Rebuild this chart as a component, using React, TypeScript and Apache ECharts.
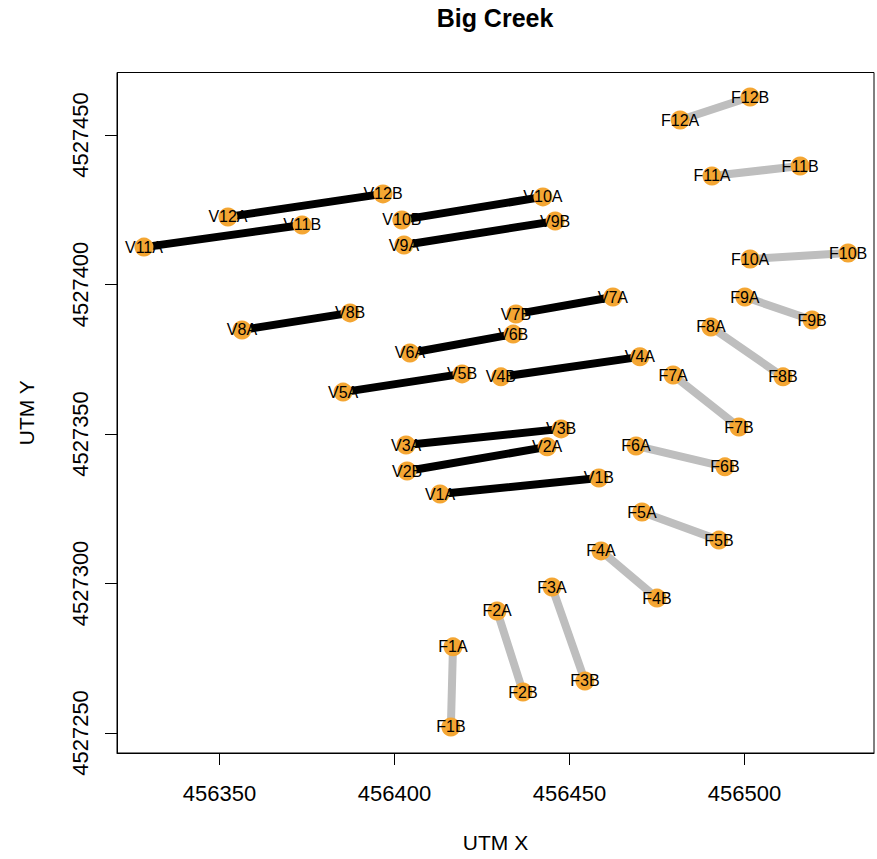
import { useEffect, useRef } from "react";
import * as echarts from "echarts";

// Transect endpoints (UTM coordinates)
const F_IDS = ["F1", "F2", "F3", "F4", "F5", "F6", "F7", "F8", "F9", "F10", "F11", "F12"];
const F_A_X = [456416.7, 456429.3, 456445.0, 456459.0, 456470.7, 456469.0, 456479.6, 456490.4, 456500.1, 456501.6, 456490.7, 456481.6];
const F_A_Y = [4527278.8, 4527290.8, 4527298.8, 4527310.9, 4527323.9, 4527346.0, 4527369.7, 4527385.8, 4527395.8, 4527408.5, 4527436.3, 4527455.0];
const F_B_X = [456416.1, 456436.7, 456454.4, 456475.0, 456492.7, 456494.4, 456498.4, 456511.0, 456519.3, 456529.6, 456515.9, 456501.6];
const F_B_Y = [4527252.0, 4527263.7, 4527267.4, 4527295.1, 4527314.5, 4527339.0, 4527352.3, 4527369.1, 4527388.1, 4527410.5, 4527439.6, 4527462.7];

const V_IDS = ["V1", "V2", "V3", "V4", "V5", "V6", "V7", "V8", "V9", "V10", "V11", "V12"];
const V_A_X = [456413.0, 456443.6, 456403.3, 456470.1, 456385.3, 456404.4, 456462.4, 456356.4, 456402.7, 456442.4, 456328.4, 456352.4];
const V_A_Y = [4527329.9, 4527345.7, 4527346.3, 4527375.8, 4527364.0, 4527377.1, 4527395.8, 4527384.8, 4527413.2, 4527429.3, 4527412.5, 4527422.6];
const V_B_X = [456458.4, 456403.6, 456447.6, 456430.4, 456419.3, 456433.9, 456434.7, 456387.3, 456445.9, 456402.1, 456373.6, 456396.7];
const V_B_Y = [4527335.3, 4527337.6, 4527351.7, 4527369.1, 4527370.1, 4527383.4, 4527390.1, 4527390.5, 4527421.2, 4527421.6, 4527419.9, 4527430.3];

const X_TICKS = [456350, 456400, 456450, 456500];
const Y_TICKS = [4527250, 4527300, 4527350, 4527400, 4527450];

const FONT = "'Liberation Sans', Arial, Helvetica, sans-serif";

export default function App() {
  const ref = useRef<HTMLDivElement>(null);

  useEffect(() => {
    document.body.style.margin = "0";
    if (!ref.current) return;
    const chart = echarts.init(ref.current, undefined, { renderer: "svg" });

    const fLines = F_IDS.map((_, i) => ({
      coords: [
        [F_A_X[i], F_A_Y[i]],
        [F_B_X[i], F_B_Y[i]],
      ],
    }));
    const vLines = V_IDS.map((_, i) => ({
      coords: [
        [V_A_X[i], V_A_Y[i]],
        [V_B_X[i], V_B_Y[i]],
      ],
    }));

    const points: { name: string; value: number[] }[] = [];
    F_IDS.forEach((id, i) => {
      points.push({ name: id + "A", value: [F_A_X[i], F_A_Y[i]] });
      points.push({ name: id + "B", value: [F_B_X[i], F_B_Y[i]] });
    });
    V_IDS.forEach((id, i) => {
      points.push({ name: id + "A", value: [V_A_X[i], V_A_Y[i]] });
      points.push({ name: id + "B", value: [V_B_X[i], V_B_Y[i]] });
    });

    chart.setOption({
      animation: false,
      backgroundColor: "#ffffff",
      textStyle: { fontFamily: FONT },
      title: {
        text: "Big Creek",
        left: 490,
        top: 0,
        textAlign: "center",
        textStyle: { fontFamily: FONT, fontWeight: "bold", fontSize: 25, color: "#000" },
      },
      grid: {
        left: 117,
        right: 3,
        top: 72.5,
        bottom: 106,
        show: true,
        borderColor: "#000",
        borderWidth: 1,
        backgroundColor: "transparent",
      },
      xAxis: {
        type: "value",
        min: 456320.7,
        max: 456537.0,
        name: "UTM X",
        nameLocation: "middle",
        nameGap: 79,
        nameTextStyle: { fontFamily: FONT, fontSize: 21, color: "#000" },
        axisLine: { show: true, lineStyle: { color: "#000", width: 1 } },
        axisTick: { show: true, length: 12, inside: false, lineStyle: { color: "#000" }, customValues: X_TICKS },
        axisLabel: {
          margin: 29,
          fontSize: 22,
          color: "#000",
          fontFamily: FONT,
          customValues: X_TICKS,
          formatter: (v: number) => String(v),
        },
        splitLine: { show: false },
      },
      yAxis: {
        type: "value",
        min: 4527243.3,
        max: 4527470.9,
        name: "UTM Y",
        nameLocation: "middle",
        nameGap: 80,
        nameTextStyle: { fontFamily: FONT, fontSize: 21, color: "#000" },
        axisLine: { show: true, lineStyle: { color: "#000", width: 1 } },
        axisTick: { show: true, length: 12, inside: false, lineStyle: { color: "#000" }, customValues: Y_TICKS },
        axisLabel: {
          margin: 26,
          rotate: 90,
          fontSize: 22,
          color: "#000",
          fontFamily: FONT,
          customValues: Y_TICKS,
          formatter: (v: number) => String(v),
        },
        splitLine: { show: false },
      },
      series: [
        {
          type: "lines",
          coordinateSystem: "cartesian2d",
          z: 1,
          silent: true,
          lineStyle: { color: "#bebebe", width: 8, opacity: 1, cap: "round" },
          data: fLines,
        },
        {
          type: "lines",
          coordinateSystem: "cartesian2d",
          z: 2,
          silent: true,
          lineStyle: { color: "#000000", width: 8, opacity: 1, cap: "round" },
          data: vLines,
        },
        {
          type: "scatter",
          z: 3,
          symbol: "circle",
          symbolSize: 19,
          itemStyle: { color: "#f4a633", opacity: 1 },
          label: {
            show: true,
            position: "inside",
            formatter: "{b}",
            fontSize: 16,
            color: "#000",
            fontFamily: FONT,
          },
          data: points,
        },
      ],
    });

    return () => chart.dispose();
  }, []);

  return <div ref={ref} style={{ width: 877, height: 859 }} />;
}
